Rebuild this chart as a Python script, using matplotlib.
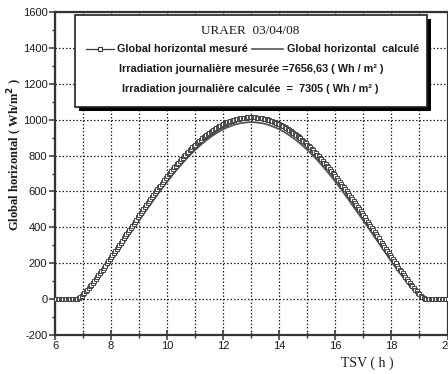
import numpy as np
import matplotlib
matplotlib.use("Agg")
import matplotlib.pyplot as plt
from matplotlib.patches import Rectangle
from matplotlib.lines import Line2D
from matplotlib.ticker import MultipleLocator

plt.rcParams["axes.unicode_minus"] = False

# ---- data ----
# measured: one sample every 3 minutes (0.05 h) from 6 h to 20 h
tsv_measured = np.round(np.arange(6.0, 20.0 + 1e-9, 0.05), 2)
measured = [
    0, 0, 0, 0, 0, 0, 0, 0, 0, 0, 0, 0, 0, 0, 0, 0, 0, 5, 11, 19, 27, 35, 44, 53, 62, 72, 81, 91, 101, 112, 122,
    133, 143, 154, 165, 176, 187, 199, 210, 221, 233, 244, 256, 267, 279, 291, 302, 314, 326, 338, 349, 361, 373,
    385, 396, 408, 420, 431, 443, 455, 466, 478, 489, 501, 512, 523, 535, 546, 557, 568, 579, 590, 601, 612, 623,
    633, 644, 654, 664, 675, 685, 695, 705, 714, 724, 734, 743, 752, 761, 771, 779, 788, 797, 805, 814, 822, 830,
    838, 846, 853, 861, 868, 875, 882, 889, 896, 902, 909, 915, 921, 926, 932, 938, 943, 948, 953, 958, 962, 966,
    971, 975, 978, 982, 985, 989, 992, 995, 997, 1000, 1002, 1004, 1006, 1008, 1009, 1010, 1012, 1012, 1013, 1014,
    1014, 1014, 1014, 1014, 1013, 1012, 1012, 1010, 1009, 1008, 1006, 1004, 1002, 1000, 997, 995, 992, 989, 985, 982, 978, 975, 971,
    966, 962, 958, 953, 948, 943, 938, 932, 926, 921, 915, 909, 902, 896, 889, 882, 875, 868, 861, 853, 846, 838,
    830, 822, 814, 805, 797, 788, 779, 771, 761, 752, 743, 734, 724, 714, 705, 695, 685, 675, 664, 654, 644, 633,
    623, 612, 601, 590, 579, 568, 557, 546, 535, 523, 512, 501, 489, 478, 466, 455, 443, 431, 420, 408, 396, 385,
    373, 361, 349, 338, 326, 314, 302, 291, 279, 267, 256, 244, 233, 221, 210, 199, 187, 176, 165, 154, 143, 133,
    122, 112, 101, 91, 81, 72, 62, 53, 44, 35, 27, 19, 11, 5, 0, 0, 0, 0, 0, 0, 0, 0, 0, 0, 0, 0, 0, 0, 0, 0, 0,
]
# calculated: one value every 6 minutes (0.1 h)
tsv_calculated = np.round(np.arange(6.0, 20.0 + 1e-9, 0.1), 1)
calculated = [
    0, 0, 0, 0, 0, 0, 0, 0, 0, 4, 17, 32, 48, 66, 84, 104, 124, 145, 166, 187, 209, 232, 254, 277, 300, 323, 346, 369, 392,
    415, 437, 460, 483, 505, 527, 549, 571, 592, 614, 634, 655, 674, 694, 713, 731, 749, 767, 784, 800, 816, 831, 846, 860,
    873, 886, 897, 909, 919, 929, 938, 946, 954, 960, 966, 972, 976, 980, 982, 984, 986, 986, 986, 984, 982, 980, 976, 972,
    966, 960, 954, 946, 938, 929, 919, 909, 897, 886, 873, 860, 846, 831, 816, 800, 784, 767, 749, 731, 713, 694, 674, 655,
    634, 614, 592, 571, 549, 527, 505, 483, 460, 437, 415, 392, 369, 346, 323, 300, 277, 254, 232, 209, 187, 166, 145, 124,
    104, 84, 66, 48, 32, 17, 4, 0, 0, 0, 0, 0, 0, 0, 0, 0,
]

title_text = "URAER  03/04/08"
label_measured = "Global horizontal mesuré"
label_calculated = "Global horizontal  calculé"
note_measured = "Irradiation journalière mesurée =7656,63 ( Wh / m² )"
note_calculated = "Irradiation journalière calculée  =  7305 ( Wh / m² )"
xlabel_text = "TSV ( h )"
ylabel_text = "Global horizontal ( Wh/m$^\\mathbf{2}$ )"

# ---- figure ----
W, H, DPI = 448, 374, 100
fig = plt.figure(figsize=(W / DPI, H / DPI), dpi=DPI)
L, R, T, B = 55, 447.5, 12, 335
ax = fig.add_axes([L / W, 1 - B / H, (R - L) / W, (B - T) / H])

sans = ["Liberation Sans", "DejaVu Sans"]
serif = ["Liberation Serif", "DejaVu Serif"]
dark = "#333333"
txtc = "#1a1a1a"
mcol = "#3a3a3a"

ax.plot(tsv_calculated, calculated, color="#555555", lw=1.3, zorder=3)
ax.plot(tsv_measured, measured, color=mcol, lw=0.7, marker="s", ms=3.0,
        mfc="white", mec=mcol, mew=0.65, zorder=4)

ax.set_xlim(6, 20)
ax.set_ylim(-200, 1600)
ax.xaxis.set_major_locator(MultipleLocator(2))
ax.xaxis.set_minor_locator(MultipleLocator(1))
ax.yaxis.set_major_locator(MultipleLocator(200))
ax.yaxis.set_minor_locator(MultipleLocator(100))

ax.grid(True, which="major", axis="y", color="#222222", ls=(0, (1.2, 1.6)), lw=0.9)
ax.grid(True, which="both", axis="x", color="#222222", ls=(0, (1.2, 1.6)), lw=0.9)
ax.set_axisbelow(True)

for s in ax.spines.values():
    s.set_linewidth(1.6)
    s.set_color(dark)

ax.tick_params(axis="x", which="major", direction="inout", length=7, width=1.1,
               color=dark, labelsize=8, pad=0.5, labelcolor=txtc)
ax.tick_params(axis="x", which="minor", direction="inout", length=5, width=1.0, color=dark)
ax.tick_params(axis="y", which="major", direction="out", length=4, width=1.1,
               color=dark, labelsize=8, pad=1.5, labelcolor=txtc)
ax.tick_params(axis="y", which="minor", direction="out", length=2.5, width=1.0, color=dark)
for lab in ax.get_xticklabels() + ax.get_yticklabels():
    lab.set_family(sans)

fig.text(367 / W, 1 - 363 / H, xlabel_text, family=serif, fontsize=10,
         ha="center", va="center", color=txtc)
fig.text(15 / W, 1 - 154 / H, ylabel_text, family=serif, fontsize=9, weight="bold",
         rotation=90, ha="center", va="center", color=txtc)

# ---- legend box ----
def axf(px, py):
    return (px - L) / (R - L), (B - py) / (B - T)

bx0, by0 = axf(75, 107)
bx1, by1 = axf(427, 15)
sx, sy = 4 / (R - L), 4 / (B - T)
ax.add_patch(Rectangle((bx0 + sx, by0 - sy), bx1 - bx0, by1 - by0, transform=ax.transAxes,
                       facecolor="black", edgecolor="none", zorder=8, clip_on=False))
ax.add_patch(Rectangle((bx0, by0), bx1 - bx0, by1 - by0, transform=ax.transAxes,
                       facecolor="white", edgecolor="#222222", lw=1.2, zorder=9, clip_on=False))

fs = 7.8
x, y = axf(250, 31)
ax.text(x, y, title_text, transform=ax.transAxes, family=serif, fontsize=9.5,
        ha="center", va="center", zorder=10, color=txtc)

x0, y = axf(86, 49)
x1, _ = axf(114, 49)
xm, _ = axf(100, 49)
ax.add_line(Line2D([x0, x1], [y, y], transform=ax.transAxes, color=mcol, lw=0.9, zorder=10))
ax.add_line(Line2D([xm], [y], transform=ax.transAxes, marker="s", ms=3.0, mfc="white",
                   mec=mcol, mew=0.8, zorder=11))
xt, _ = axf(117, 49)
ax.text(xt, y, label_measured, transform=ax.transAxes, family=sans, fontsize=fs,
        weight="bold", ha="left", va="center", zorder=10, color=txtc)
x0, _ = axf(252, 49)
x1, _ = axf(283, 49)
ax.add_line(Line2D([x0, x1], [y, y], transform=ax.transAxes, color="#555555", lw=1.2, zorder=10))
xt, _ = axf(287, 49)
ax.text(xt, y, label_calculated, transform=ax.transAxes, family=sans, fontsize=fs,
        weight="bold", ha="left", va="center", zorder=10, color=txtc)

x, y = axf(251, 69)
ax.text(x, y, note_measured, transform=ax.transAxes, family=sans, fontsize=fs,
        weight="bold", ha="center", va="center", zorder=10, color=txtc)
x, y = axf(250, 89)
ax.text(x, y, note_calculated, transform=ax.transAxes, family=sans, fontsize=fs,
        weight="bold", ha="center", va="center", zorder=10, color=txtc)

fig.savefig("out.png", dpi=DPI)
